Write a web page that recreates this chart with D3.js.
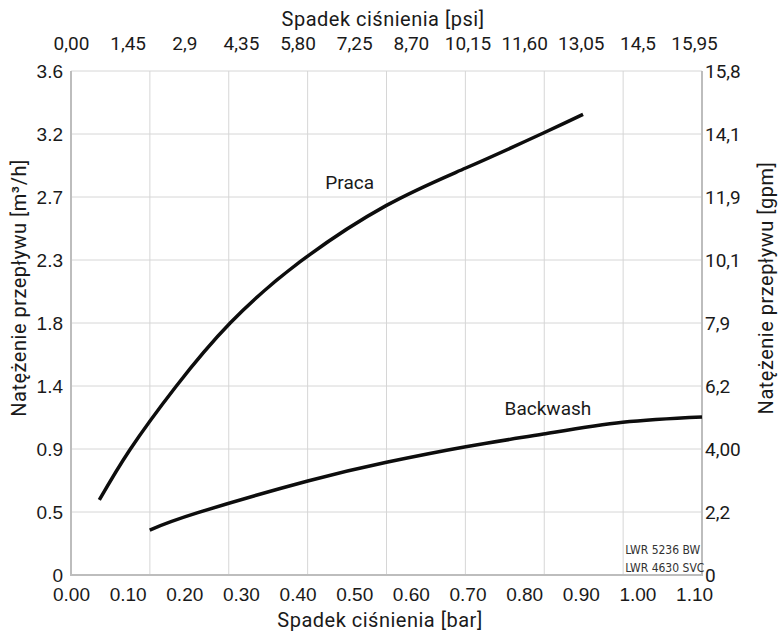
<!DOCTYPE html>
<html>
<head>
<meta charset="utf-8">
<script src="https://cdn.jsdelivr.net/npm/d3@7/dist/d3.min.js"></script>
<style>
  html, body { margin: 0; padding: 0; background: #fff; }
  svg { display: block; }
  .din { font-family: Roboto, "DejaVu Sans", sans-serif; fill: #1a1a1a; }
  .arial { font-family: "Liberation Sans", Arial, sans-serif; fill: #1a1a1a; }
</style>
</head>
<body>
<svg id="chart" width="779" height="635"></svg>
<script>
// ---- data ----
const barTicks = [0, 0.1, 0.2, 0.3, 0.4, 0.5, 0.6, 0.7, 0.8, 0.9, 1.0, 1.1];
const psiTicks = [0, 1.45, 2.9, 4.35, 5.8, 7.25, 8.7, 10.15, 11.6, 13.05, 14.5, 15.95];
const psiLabels = ["0,00", "1,45", "2,9", "4,35", "5,80", "7,25", "8,70", "10,15", "11,60", "13,05", "14,5", "15,95"];
const flowTicks = [0, 0.45, 0.9, 1.35, 1.8, 2.25, 2.7, 3.15, 3.6];
const leftLabels = ["0", "0.5", "0.9", "1.4", "1.8", "2.3", "2.7", "3.2", "3.6"];
const rightLabels = ["0", "2,2", "4,00", "6,2", "7,9", "10,1", "11,9", "14,1", "15,8"];

const pracaBar  = [0.050, 0.104, 0.185, 0.281, 0.404, 0.557, 0.697, 0.834, 0.904];
const pracaFlow = [0.536, 0.895, 1.345, 1.800, 2.236, 2.640, 2.907, 3.157, 3.290];
const backBar   = [0.139, 0.224, 0.418, 0.557, 0.697, 0.834, 0.974, 1.114];
const backFlow  = [0.321, 0.445, 0.671, 0.805, 0.916, 1.007, 1.091, 1.129];

const seriesNames = ["Praca", "Backwash"];
const modelNames = ["LWR 5236 BW", "LWR 4630 SVC"];

(function () {
// ---- layout ----
const pL = 71, pR = 702, pT = 71, pB = 575;
const barMax = 1.114, flowMax = 3.6;

const svg = d3.select("#chart");
const x = d3.scaleLinear().domain([0, barMax]).range([pL, pR]);
const xPsi = d3.scaleLinear().domain([0, barMax * 14.5]).range([pL, pR]);
const y = d3.scaleLinear().domain([0, flowMax]).range([pB, pT]);

// grid
const gridX = d3.range(9).map(i => i * barMax / 8);
svg.append("g").selectAll("line").data(gridX).join("line")
  .attr("x1", d => x(d)).attr("x2", d => x(d))
  .attr("y1", pT).attr("y2", pB)
  .attr("stroke", "#d6d6d6").attr("stroke-width", 1);
svg.append("g").selectAll("line").data(flowTicks).join("line")
  .attr("x1", pL).attr("x2", pR)
  .attr("y1", d => y(d)).attr("y2", d => y(d))
  .attr("stroke", "#d6d6d6").attr("stroke-width", 1);

// frame
svg.append("line").attr("x1", pL).attr("x2", pL).attr("y1", pT).attr("y2", pB + 1)
  .attr("stroke", "#bdbdbd").attr("stroke-width", 2);
svg.append("line").attr("x1", pR).attr("x2", pR).attr("y1", pT).attr("y2", pB + 1)
  .attr("stroke", "#bdbdbd").attr("stroke-width", 2);
svg.append("line").attr("x1", pL).attr("x2", pR).attr("y1", pB).attr("y2", pB)
  .attr("stroke", "#bdbdbd").attr("stroke-width", 2);

// axes
function styleAxis(g, cls, size) {
  g.select(".domain").remove();
  g.selectAll(".tick line").remove();
  g.selectAll(".tick text").attr("class", cls).style("font-size", size + "px").attr("fill", "#1a1a1a");
}
svg.append("g").attr("transform", `translate(0,${pB})`)
  .call(d3.axisBottom(x).tickValues(barTicks).tickFormat(d3.format(".2f")).tickSize(0).tickPadding(13))
  .call(g => styleAxis(g, "arial", 19));
svg.append("g").attr("transform", `translate(0,${pT})`)
  .call(d3.axisTop(xPsi).tickValues(psiTicks).tickFormat((d, i) => psiLabels[i]).tickSize(0).tickPadding(21))
  .call(g => styleAxis(g, "din", 19));
svg.append("g").attr("transform", `translate(${pL},0)`)
  .call(d3.axisLeft(y).tickValues(flowTicks).tickFormat((d, i) => leftLabels[i]).tickSize(0).tickPadding(8))
  .call(g => styleAxis(g, "arial", 19));
svg.append("g").attr("transform", `translate(${pR},0)`)
  .call(d3.axisRight(y).tickValues(flowTicks).tickFormat((d, i) => rightLabels[i]).tickSize(0).tickPadding(3))
  .call(g => styleAxis(g, "din", 19));

// titles
const titleStyle = s => s.attr("class", "din").attr("text-anchor", "middle")
  .style("font-size", "20px").style("letter-spacing", "0.5px");
svg.append("text").call(titleStyle).attr("x", 383).attr("y", 26).text("Spadek ciśnienia [psi]");
svg.append("text").call(titleStyle).attr("x", 380).attr("y", 627).text("Spadek ciśnienia [bar]");
svg.append("text").call(titleStyle)
  .attr("transform", "translate(26,288) rotate(-90)")
  .text("Natężenie przepływu [m³/h]");
svg.append("text").call(titleStyle)
  .attr("transform", "translate(773,288) rotate(-90)")
  .text("Natężenie przepływu [gpm]");

// curves
const line = d3.line().x(d => x(d[0])).y(d => y(d[1])).curve(d3.curveNatural);
const praca = pracaBar.map((b, i) => [b, pracaFlow[i]]);
const back = backBar.map((b, i) => [b, backFlow[i]]);
svg.append("g").selectAll("path").data([praca, back]).join("path")
  .attr("d", line).attr("fill", "none").attr("stroke", "#0d0d0d")
  .attr("stroke-width", 3.5).attr("stroke-linecap", "butt");

// curve labels
svg.append("text").attr("class", "din").attr("x", x(0.492)).attr("y", y(2.7) - 8)
  .attr("text-anchor", "middle").style("font-size", "19px").text(seriesNames[0]);
svg.append("text").attr("class", "din").attr("x", x(0.842)).attr("y", y(1.14))
  .attr("text-anchor", "middle").style("font-size", "19px").text(seriesNames[1]);

// model labels
svg.append("g").selectAll("text").data(modelNames).join("text")
  .attr("x", x(barMax * 7 / 8) + 2)
  .attr("y", (d, i) => y(0.15) + i * 18)
  .style("font-family", '"Liberation Sans Narrow", "DejaVu Sans Condensed", "Liberation Sans", sans-serif')
  .style("font-stretch", "condensed")
  .style("font-size", "12px").attr("fill", "#333")
  .text(d => d);
})();
</script>
</body>
</html>
